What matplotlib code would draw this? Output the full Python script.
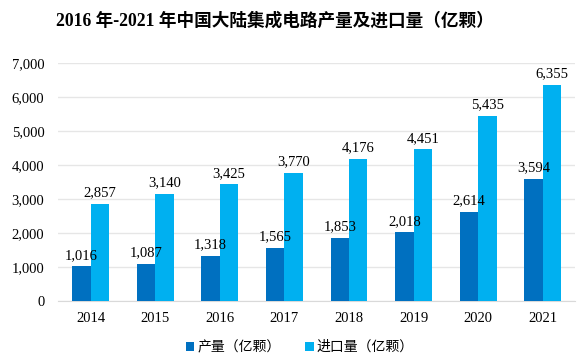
import matplotlib
matplotlib.use("Agg")
import matplotlib.pyplot as plt
import numpy as np

years = ["2014", "2015", "2016", "2017", "2018", "2019", "2020", "2021"]
output = [1016, 1087, 1318, 1565, 1853, 2018, 2614, 3594]
imports = [2857, 3140, 3425, 3770, 4176, 4451, 5435, 6355]
series_names = ["产量（亿颗）", "进口量（亿颗）"]
title = "2016 年-2021 年中国大陆集成电路产量及进口量（亿颗）"

plt.rcParams['font.family'] = ['Liberation Serif', 'Noto Sans CJK SC']

fig = plt.figure(figsize=(5.88, 3.59), dpi=100)
ax = fig.add_axes([0.099, 0.162, 0.879, 0.663])

x = np.arange(len(years))
w = 0.285
b1 = ax.bar(x - w/2, output, w, color="#0070C0", label=series_names[0], zorder=3)
b2 = ax.bar(x + w/2, imports, w, color="#00B0F0", label=series_names[1], zorder=3)

for rect, v in zip(b1, output):
    ax.text(rect.get_x() + rect.get_width()/2, v + 130, f"{v:,}", ha="center", va="bottom", fontsize=10.5)
for rect, v in zip(b2, imports):
    ax.text(rect.get_x() + rect.get_width()/2, v + 130, f"{v:,}", ha="center", va="bottom", fontsize=10.5)

ax.set_xlim(-0.5, len(years) - 0.5)
ax.set_ylim(0, 7000)
ax.set_yticks(range(0, 7001, 1000))
ax.set_yticklabels([f"{t:,}" for t in range(0, 7001, 1000)], fontsize=10.5)
ax.set_xticks(x)
ax.set_xticklabels(years, fontsize=10.5)
ax.tick_params(axis="x", length=0, pad=8)
ax.tick_params(axis="y", length=0, pad=10)
ax.yaxis.grid(True, color="#E6E6E6", linewidth=1, zorder=0)
for s in ["top", "right", "left"]:
    ax.spines[s].set_visible(False)
ax.spines["bottom"].set_color("#D9D9D9")

fig.text(0.468, 0.942, title, ha="center", va="center", fontsize=12.7, fontweight="bold")

leg = fig.legend(handles=[b1, b2], loc="center", bbox_to_anchor=(0.51, 0.033), ncol=2,
                 frameon=False, handlelength=0.6, handleheight=0.6,
                 handletextpad=0.2, columnspacing=1.8, prop={'family': ['Noto Sans CJK SC'], 'size': 10})

fig.savefig("out.png", dpi=100)
